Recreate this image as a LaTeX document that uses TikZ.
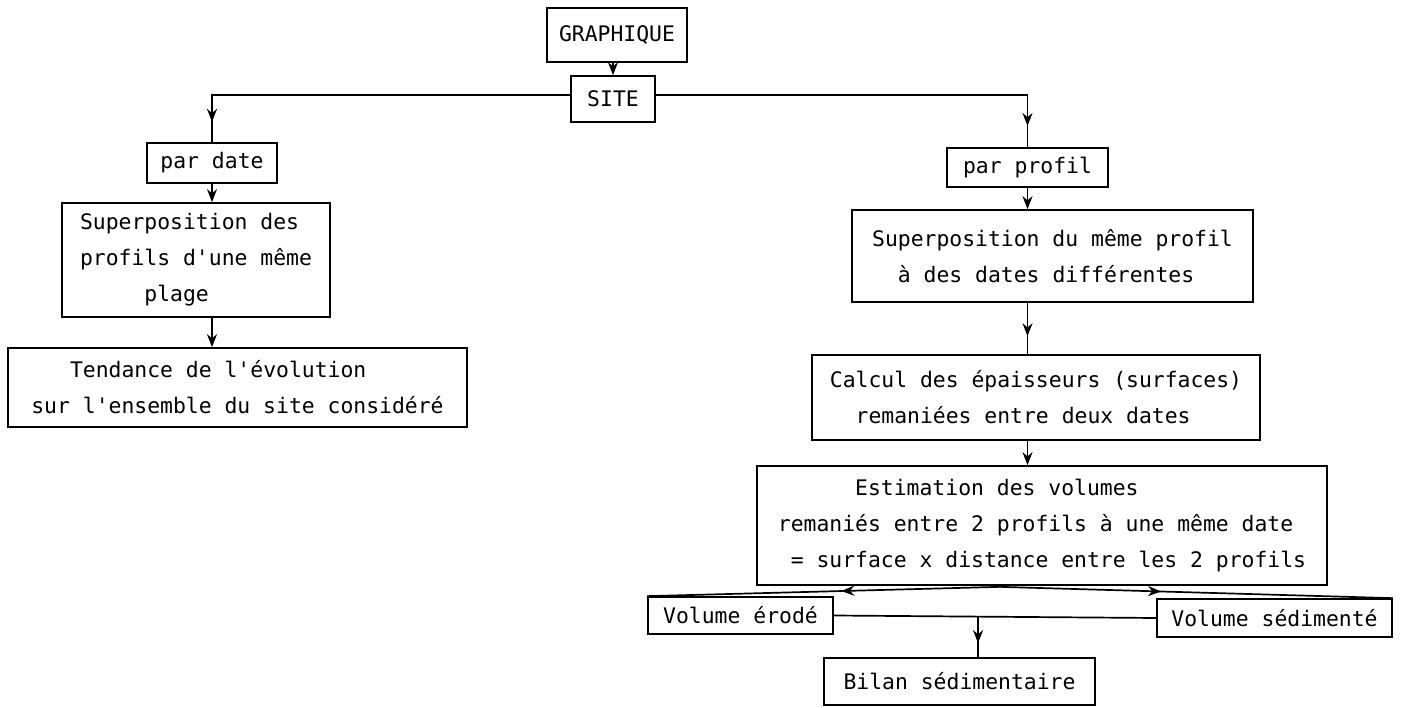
\documentclass[tikz,border=0pt]{standalone}
\usepackage{fontspec}
\setmonofont{DejaVu Sans Mono}
\usetikzlibrary{arrows.meta,decorations.markings}
\begin{document}
\begin{tikzpicture}[x=1pt,y=-1pt,
  txt/.style={font=\ttfamily\fontsize{21.4}{36}\selectfont},
  box/.style={draw,line width=1.7pt,inner sep=0pt,txt},
  conn/.style={line width=1.7pt},
  arr/.style={conn,-{Stealth[length=13pt,width=10pt]}},
  midarr/.style={conn,postaction={decorate},decoration={markings,mark=at position #1 with {\arrow{Stealth[length=13pt,width=10pt]}}}}]
\useasboundingbox (0,0) rectangle (1404,708);

% nodes
\node[box,line width=2.6pt,minimum width=140,minimum height=54] (graph) at (617,35) {GRAPHIQUE};
\node[box,minimum width=84,minimum height=46] (site) at (613,99) {SITE};
\node[box,minimum width=130,minimum height=40] (pdate) at (212,163) {par date};
\node[box,minimum width=268,minimum height=114,align=left] (supd) at (196,260)
  {Superposition des\\profils d'une même\\\phantom{xxxxx}plage};
\node[box,minimum width=459,minimum height=79,align=left] (tend) at (237.5,387.5)
  {\phantom{xxx}Tendance de l'évolution\\sur l'ensemble du site considéré};
\node[box,minimum width=161,minimum height=39] (pprof) at (1027.5,167.5) {par profil};
\node[box,minimum width=401,minimum height=92,align=left] (supm) at (1052.5,256)
  {Superposition du même profil\\\phantom{xx}à des dates différentes};
\node[box,minimum width=448,minimum height=85,align=left] (calc) at (1036,397.5)
  {Calcul des épaisseurs (surfaces)\\\phantom{xx}remaniées entre deux dates};
\node[box,minimum width=570,minimum height=119,align=left] (est) at (1042,525.5)
  {\phantom{xxxxxx}Estimation des volumes\\remaniés entre 2 profils à une même date\\\phantom{x}= surface x distance entre les 2 profils};
\node[box,minimum width=185,minimum height=37] (vero) at (740.5,615.5) {Volume érodé};
\node[box,minimum width=235,minimum height=38] (vsed) at (1274.5,618) {Volume sédimenté};
\node[box,minimum width=271,minimum height=47] (bilan) at (959.5,681.5) {Bilan sédimentaire};

\coordinate (fan) at ([xshift=-42pt,yshift=-1pt]est.south);
\coordinate (br) at (978,617);

% connectors
\draw[arr] (site.north |- graph.south) -- (site.north);
\draw[midarr=0.95] ([yshift=4pt]site.west) -| (pdate.north);
\draw[midarr=0.95] ([yshift=4pt]site.east) -| (pprof.north);
\draw[arr] (pdate.south) -- (pdate.south |- supd.north);
\draw[arr] (pdate.south |- supd.south) -- (pdate.south |- tend.north);
\draw[arr] (pprof.south) -- (pprof.south |- supm.north);
\draw[midarr=0.65] (pprof.south |- supm.south) -- (pprof.south |- calc.north);
\draw[arr] (pprof.south |- calc.south) -- (pprof.south |- est.north);
\draw[midarr=0.45] (fan) -- (vero.north west);
\draw[midarr=0.41] (fan) -- (vsed.north east);
\draw[conn] (vero.east) -- (vsed.west);
\draw[midarr=0.65] (br) -- (br |- bilan.north);
\end{tikzpicture}
\end{document}
